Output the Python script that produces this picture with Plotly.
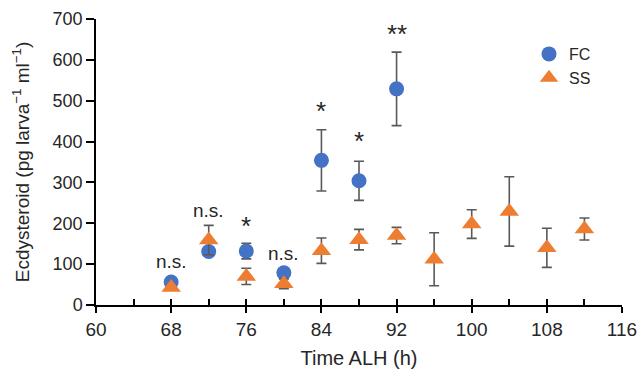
import plotly.graph_objects as go

# Data
fc_time = [68, 72, 76, 80, 84, 88, 92]
fc_val = [56, 131, 132, 79, 354, 304, 529]
fc_err = [6, 0, 19, 11, 75, 48, 90]

ss_time = [68, 72, 76, 80, 84, 88, 92, 96, 100, 104, 108, 112]
ss_val = [43, 159, 70, 52, 133, 160, 170, 112, 198, 229, 140, 186]
ss_err = [4, 36, 20, 12, 31, 25, 20, 65, 35, 85, 48, 27]

sig_x = [68, 72, 76, 80, 84, 88, 92]
sig_y = [106, 232, 193, 126, 474, 402, 664]
sig_text = ["n.s.", "n.s.", "*", "n.s.", "*", "*", "**"]

x_ticks = [60, 68, 76, 84, 92, 100, 108, 116]
y_ticks = [0, 100, 200, 300, 400, 500, 600, 700]

FONT = "Liberation Sans, Arial, sans-serif"
TXT = "#262626"
ERR = "#595959"

fig = go.Figure()
fig.add_trace(go.Scatter(
    x=fc_time, y=fc_val, mode="markers", name="FC",
    marker=dict(symbol="circle", size=15, color="#4472C4"),
    error_y=dict(type="data", array=fc_err, visible=True, color=ERR, thickness=1.6, width=5),
))
fig.add_trace(go.Scatter(
    x=ss_time, y=ss_val, mode="markers", name="SS",
    marker=dict(symbol="triangle-up", size=17, color="#ED7D31"),
    error_y=dict(type="data", array=ss_err, visible=True, color=ERR, thickness=1.6, width=5),
))

for x, y, t in zip(sig_x, sig_y, sig_text):
    star = t.startswith("*")
    fig.add_annotation(x=x, y=y, text=t, showarrow=False, xref="x", yref="y",
                       font=dict(family=FONT, size=26 if star else 19, color=TXT))

# overlay axis for inside ticks at every 4 h
fig.add_trace(go.Scatter(x=[60, 116], y=[None, None], xaxis="x2", showlegend=False, hoverinfo="skip"))

fig.update_layout(
    width=639, height=372,
    margin=dict(l=96, r=17, t=19, b=67),
    paper_bgcolor="white", plot_bgcolor="white",
    font=dict(family=FONT, size=19, color=TXT),
    xaxis=dict(range=[60, 116], tickvals=x_ticks, ticks="outside", ticklen=6, tickwidth=1.5,
               tickcolor="black", showline=True, linecolor="black", linewidth=1.5,
               showgrid=False, zeroline=False, automargin=False,
               title=dict(text="Time ALH (h)", font=dict(size=20), standoff=12),
               tickfont=dict(size=19)),
    xaxis2=dict(range=[60, 116], overlaying="x", anchor="y", side="bottom", dtick=4, tick0=60,
                ticks="inside", ticklen=6, tickwidth=1.5, tickcolor="black",
                showticklabels=False, showgrid=False, zeroline=False, showline=False),
    yaxis=dict(range=[0, 700], tickvals=y_ticks, ticks="outside", ticklen=8, tickwidth=1.5,
               tickcolor="black", showline=True, linecolor="black", linewidth=1.5,
               showgrid=False, zeroline=False, automargin=False,
               title=dict(text="Ecdysteroid (pg larva<sup>−1</sup> ml<sup>−1</sup>)", font=dict(size=19), standoff=18),
               tickfont=dict(size=18)),
    legend=dict(x=(529 - 96) / 526, y=1 - (37 - 19) / 286, xanchor="left", yanchor="top",
                font=dict(size=16), bgcolor="rgba(0,0,0,0)", itemwidth=30, tracegroupgap=0),
)

fig.write_html("out.html", config={"displayModeBar": False},
               post_script="document.body.style.margin='0';document.body.style.overflow='hidden';")
